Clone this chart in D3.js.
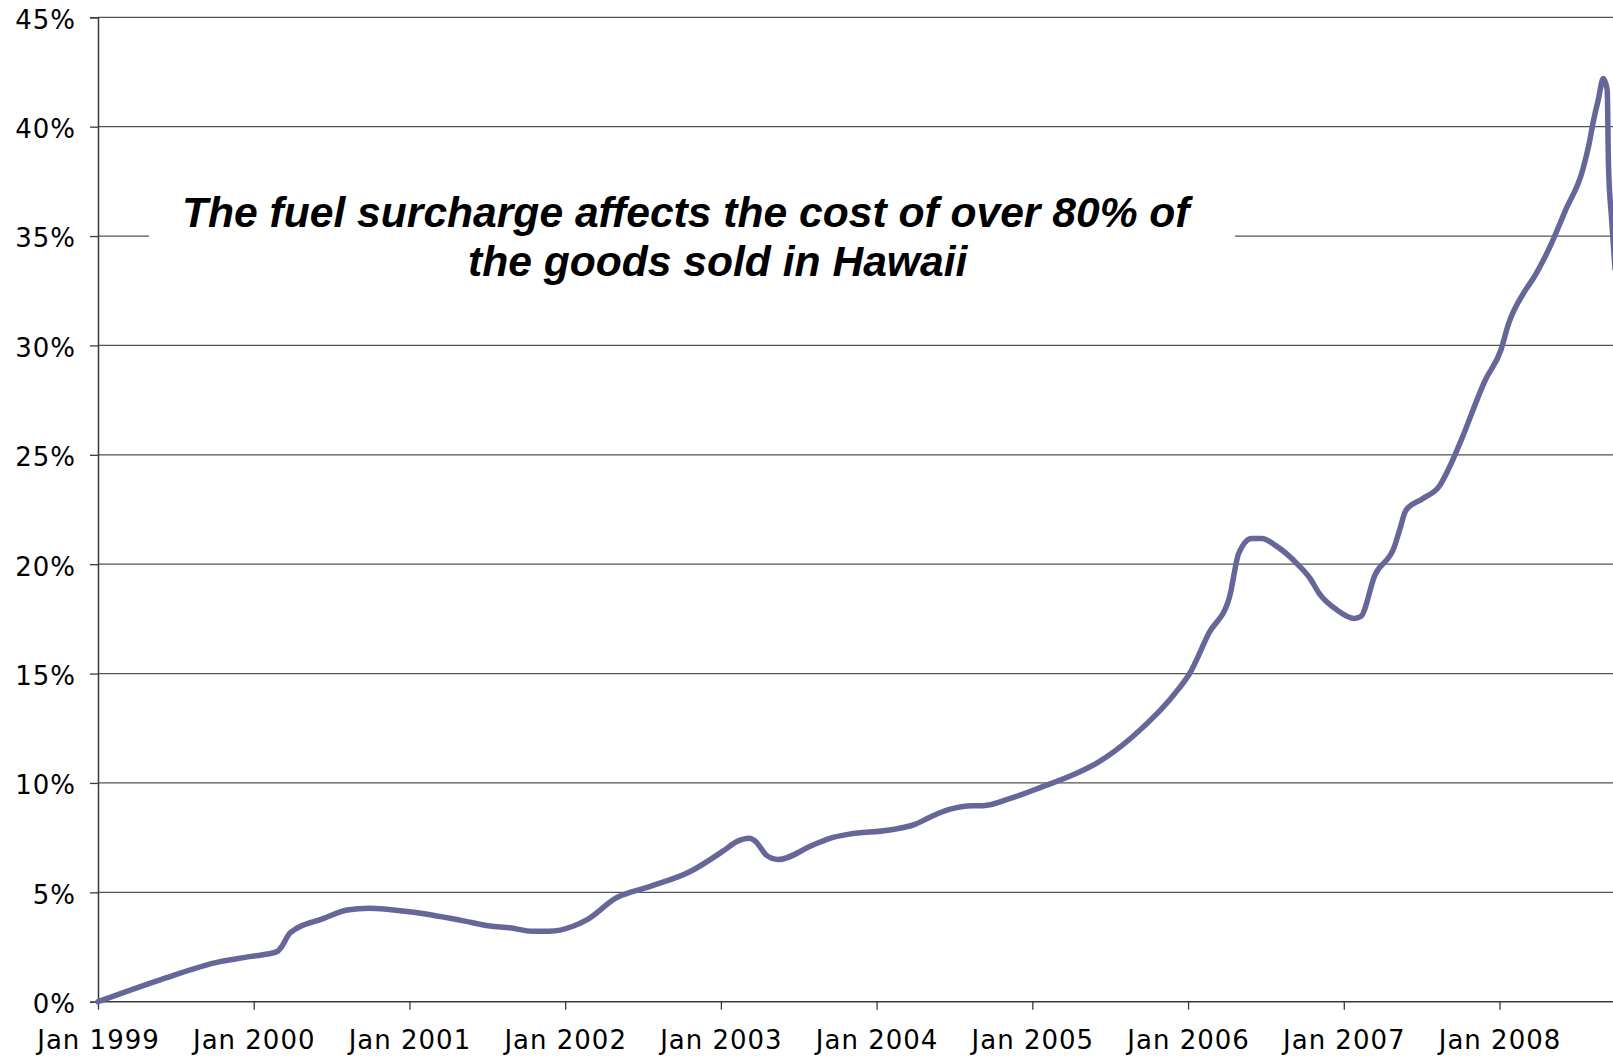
<!DOCTYPE html>
<html>
<head>
<meta charset="utf-8">
<script src="https://cdn.jsdelivr.net/npm/d3@7"></script>
<style>
  body { margin: 0; background: #fff; }
  svg { display: block; }
</style>
</head>
<body>
<svg id="chart" width="1613" height="1056"></svg>
<script>
// months after Jan 1999
const months = [
  0, 4.8, 9.4, 11.7, 13.8, 14.15, 14.8, 17.4, 19.2, 20.9, 24.0, 27.9, 30.2, 31.7,
  33.5, 34.8, 36.6, 37.7, 39.9, 42.5, 45.6, 48.2, 49.2, 50.2, 50.7, 51.5, 52.4,
  55.1, 56.4, 57.9, 61.0, 63.0, 64.3, 65.6, 67.4, 68.2, 70.3, 72.8, 75.1, 77.0,
  79.7, 83.3, 84.1, 85.6, 87.2, 87.9, 88.9, 89.7, 90.7, 92.5, 93.4, 94.1, 95.5,
  96.8, 97.3, 98.4, 99.9, 100.3, 100.8, 102.1, 103.4, 104.1, 105.0, 106.9, 108.1,
  108.7, 110.0, 110.6, 111.8, 113.1, 114.4, 114.9, 115.2, 115.6, 116.0, 116.3,
  116.4, 116.65, 116.9
];
// fuel surcharge, percent
const surcharge = [
  0, 1.0, 1.83, 2.06, 2.29, 2.51, 3.15, 3.81, 4.19, 4.27, 4.11, 3.73, 3.46, 3.38,
  3.22, 3.22, 3.45, 3.75, 4.73, 5.26, 5.94, 6.9, 7.31, 7.47, 7.31, 6.7, 6.5,
  7.16, 7.47, 7.66, 7.85, 8.12, 8.49, 8.79, 8.96, 8.96, 9.29, 9.83, 10.36, 10.92,
  12.1, 14.32, 14.98, 16.84, 18.51, 20.49, 21.18, 21.18, 20.87, 19.96, 19.35, 18.67, 17.9,
  17.52, 17.6, 19.5, 20.8, 21.56, 22.47, 23.0, 23.6, 24.38, 25.6, 28.41, 29.78,
  31.0, 32.53, 33.06, 34.4, 36.2, 38.0, 39.2, 40.15, 41.2, 42.2, 41.67,
  38.2, 35.7, 33.5
];

const xTickMonths = [0, 12, 24, 36, 48, 60, 72, 84, 96, 108];
const xTickLabels = ["Jan 1999", "Jan 2000", "Jan 2001", "Jan 2002", "Jan 2003",
  "Jan 2004", "Jan 2005", "Jan 2006", "Jan 2007", "Jan 2008"];
const yTicks = [0, 5, 10, 15, 20, 25, 30, 35, 40, 45];

const titleLines = [
  "The fuel surcharge affects the cost of over 80% of",
  "the goods sold in Hawaii"
];

const svg = d3.select("#chart");
const plotLeft = 98, plotRight = 1613, plotTop = 17.3, plotBottom = 1001.7;

const x = d3.scaleLinear().domain([0, 108]).range([plotLeft, 1499.5]);
const y = d3.scaleLinear().domain([0, 45]).range([plotBottom, plotTop]);

svg.append("rect").attr("width", 1613).attr("height", 1056).attr("fill", "#fff");

// horizontal gridlines
svg.append("g")
  .selectAll("line")
  .data(yTicks.slice(1))
  .join("line")
  .attr("x1", plotLeft).attr("x2", plotRight)
  .attr("y1", d => y(d)).attr("y2", d => y(d))
  .attr("stroke", "#555")
  .attr("stroke-width", 1.3);

// white box behind the title
svg.append("rect")
  .attr("x", 149).attr("y", 165)
  .attr("width", 1086).attr("height", 135)
  .attr("fill", "#fff");

svg.append("g")
  .attr("font-family", "'Liberation Sans', Arial, sans-serif")
  .attr("font-weight", "bold")
  .attr("font-style", "italic")
  .attr("font-size", 42.6)
  .attr("fill", "#000")
  .selectAll("text")
  .data(titleLines)
  .join("text")
  .attr("x", (d, i) => i === 0 ? 182 : 468)
  .attr("y", (d, i) => 226.5 + i * 49.5)
  .text(d => d);

// y axis
const yAxis = svg.append("g")
  .attr("transform", `translate(${plotLeft},0)`)
  .call(d3.axisLeft(y).tickValues(yTicks).tickSize(8).tickPadding(14)
    .tickFormat(d => d + "%"));

// x axis
const xAxis = svg.append("g")
  .attr("transform", `translate(0,${plotBottom})`)
  .call(d3.axisBottom(x).tickValues(xTickMonths).tickSize(8).tickPadding(13)
    .tickFormat((d, i) => xTickLabels[i]));
xAxis.select(".domain").attr("d", `M${plotLeft},0H${plotRight}`);

svg.selectAll(".domain").attr("stroke", "#3a3a3a").attr("stroke-width", 1.5);
svg.selectAll(".tick line").attr("stroke", "#3a3a3a").attr("stroke-width", 1.3);
svg.selectAll(".tick text")
  .attr("font-family", "'DejaVu Sans', Verdana, sans-serif")
  .attr("font-size", 26)
  .attr("letter-spacing", 1)
  .attr("fill", "#000");
yAxis.selectAll(".tick text").attr("dy", "0.42em");
xAxis.selectAll(".tick text").attr("dy", "1.0em");

// the series
const pts = months.map((m, i) => [m, surcharge[i]]);
const line = d3.line()
  .x(d => x(d[0]))
  .y(d => y(d[1]))
  .curve(d3.curveMonotoneX);

svg.append("path")
  .datum(pts)
  .attr("d", line)
  .attr("fill", "none")
  .attr("stroke", "#666699")
  .attr("stroke-width", 5.5)
  .attr("stroke-linejoin", "round")
  .attr("stroke-linecap", "round");
</script>
</body>
</html>
